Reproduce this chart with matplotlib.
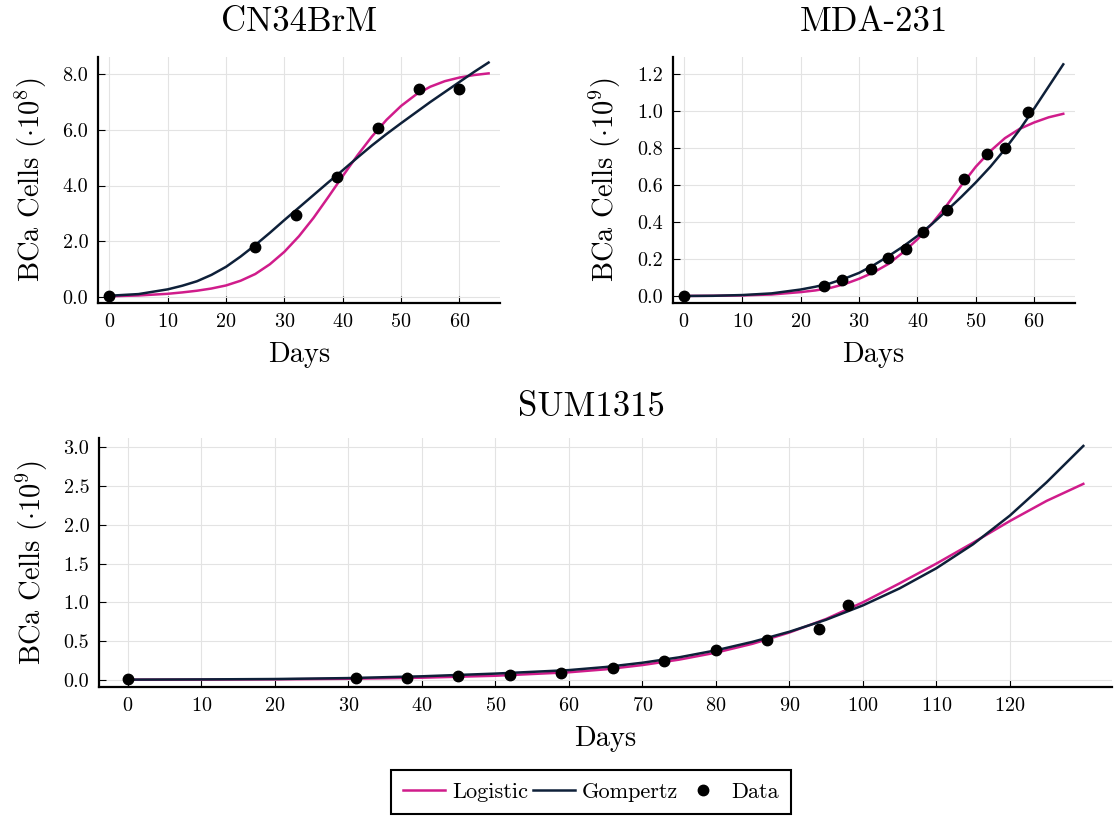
import matplotlib
matplotlib.use("Agg")
import matplotlib.pyplot as plt
from matplotlib.lines import Line2D
from matplotlib.ticker import FormatStrFormatter

plt.rcParams['font.family'] = 'serif'
plt.rcParams['font.serif'] = ['cmr10']
plt.rcParams['mathtext.fontset'] = 'cm'
plt.rcParams['axes.formatter.use_mathtext'] = True

LOGI = '#D01C8B'
GOMP = '#0E2039'

# CN34BrM (cells x 1e8)
cn_days = [0, 25, 32, 39, 46, 53, 60]
cn_cells = [0.03, 1.80, 2.95, 4.32, 6.08, 7.47, 7.47]
cn_t = [0, 5, 10, 12.5, 15, 17.5, 20, 22.5, 25, 27.5, 30, 32.5, 35, 37.5, 40,
        42.5, 45, 47.5, 50, 52.5, 55, 57.5, 60, 62.5, 65]
cn_logistic = [0.02, 0.05, 0.11, 0.16, 0.22, 0.30, 0.41, 0.58, 0.82, 1.17, 1.62, 2.18, 2.84,
               3.58, 4.34, 5.08, 5.76, 6.36, 6.86, 7.26, 7.55, 7.75, 7.88, 7.97, 8.03]
cn_gompertz = [0.04, 0.10, 0.27, 0.40, 0.56, 0.79, 1.08, 1.45, 1.86, 2.30, 2.76, 3.21, 3.66,
               4.11, 4.55, 5.00, 5.44, 5.85, 6.24, 6.62, 7.00, 7.36, 7.72, 8.08, 8.42]

# MDA-231 (cells x 1e9)
mda_days = [0, 24, 27, 32, 35, 38, 41, 45, 48, 52, 55, 59]
mda_cells = [0.0, 0.056, 0.088, 0.145, 0.208, 0.256, 0.346, 0.467, 0.632, 0.768, 0.804, 0.996]
mda_t = [0, 5, 10, 15, 20, 22.5, 25, 27.5, 30, 32.5, 35, 37.5, 40, 42.5, 45, 47.5,
         50, 52.5, 55, 57.5, 60, 62.5, 65]
mda_logistic = [0.0, 0.001, 0.003, 0.008, 0.021, 0.030, 0.043, 0.064, 0.093, 0.128, 0.173,
                0.235, 0.307, 0.392, 0.49, 0.598, 0.70, 0.785, 0.855, 0.905, 0.94, 0.968, 0.987]
mda_gompertz = [0.0, 0.001, 0.005, 0.014, 0.035, 0.050, 0.068, 0.094, 0.125, 0.167, 0.215,
                0.267, 0.325, 0.39, 0.462, 0.536, 0.615, 0.70, 0.795, 0.90, 1.015, 1.135, 1.255]

# SUM1315 (cells x 1e9)
sum_days = [0, 31, 38, 45, 52, 59, 66, 73, 80, 87, 94, 98]
sum_cells = [0.005, 0.026, 0.026, 0.047, 0.06, 0.09, 0.15, 0.245, 0.39, 0.51, 0.65, 0.96]
sum_t = [0, 10, 20, 30, 40, 50, 60, 65, 70, 75, 80, 85, 90, 95, 100, 105, 110, 115, 120, 125, 130]
sum_logistic = [0.001, 0.003, 0.006, 0.013, 0.027, 0.052, 0.097, 0.135, 0.19, 0.26, 0.35, 0.465,
                0.61, 0.785, 1.0, 1.245, 1.50, 1.77, 2.05, 2.31, 2.53]
sum_gompertz = [0.002, 0.005, 0.01, 0.022, 0.045, 0.08, 0.125, 0.165, 0.22, 0.29, 0.38, 0.49,
                0.62, 0.775, 0.96, 1.18, 1.44, 1.75, 2.12, 2.55, 3.02]


def style(ax):
    for s in ['top', 'right']:
        ax.spines[s].set_visible(False)
    for s in ['left', 'bottom']:
        ax.spines[s].set_linewidth(1.6)
    ax.tick_params(direction='in', length=5, width=0.8, pad=7, labelsize=14.5)
    ax.grid(True, color='#e3e3e3', linewidth=0.8)
    ax.set_axisbelow(True)


def panel(ax, t, lg, gp, days, cells, title, ylab, pad=19, tx=0.5):
    ax.plot(t, lg, color=LOGI, lw=1.8, label='Logistic')
    ax.plot(t, gp, color=GOMP, lw=1.8, label='Gompertz')
    ax.plot(days, cells, 'o', color='black', ms=7.5, label='Data', zorder=5)
    style(ax)
    ax.set_xlabel('Days', fontsize=20.5, labelpad=8)
    ax.set_ylabel(ylab, fontsize=20.5, labelpad=10)
    ax.set_title(title, fontsize=25, pad=pad, x=tx)


fig = plt.figure(figsize=(11.15, 8.16), dpi=100)

ax1 = fig.add_axes([0.0879, 0.6287, 0.3605, 0.3015])
panel(ax1, cn_t, cn_logistic, cn_gompertz, cn_days, cn_cells, 'CN34BrM',
      r'BCa Cells $(\cdot 10^8)$')
ax1.set_xlim(-1.95, 66.95)
ax1.set_ylim(-0.22, 8.62)
ax1.set_xticks(range(0, 61, 10))
ax1.set_yticks([0, 2, 4, 6, 8])
ax1.yaxis.set_major_formatter(FormatStrFormatter('%.1f'))

ax2 = fig.add_axes([0.6033, 0.6287, 0.3605, 0.3015])
panel(ax2, mda_t, mda_logistic, mda_gompertz, mda_days, mda_cells, 'MDA-231',
      r'BCa Cells $(\cdot 10^9)$')
ax2.set_xlim(-1.95, 66.95)
ax2.set_ylim(-0.038, 1.295)
ax2.set_xticks(range(0, 61, 10))
ax2.set_yticks([0, 0.2, 0.4, 0.6, 0.8, 1.0, 1.2])
ax2.yaxis.set_major_formatter(FormatStrFormatter('%.1f'))

ax3 = fig.add_axes([0.0888, 0.158, 0.9085, 0.305])
panel(ax3, sum_t, sum_logistic, sum_gompertz, sum_days, sum_cells, 'SUM1315',
      r'BCa Cells $(\cdot 10^9)$', pad=16, tx=0.486)
ax3.set_xlim(-3.9, 133.9)
ax3.set_ylim(-0.094, 3.12)
ax3.set_xticks(range(0, 121, 10))
ax3.set_yticks([0, 0.5, 1.0, 1.5, 2.0, 2.5, 3.0])
ax3.yaxis.set_major_formatter(FormatStrFormatter('%.1f'))

handles = [Line2D([], [], color=LOGI, lw=1.8),
           Line2D([], [], color=GOMP, lw=1.8),
           Line2D([], [], color='black', marker='o', ms=7.5, ls='none')]
leg = fig.legend(handles, ['Logistic', 'Gompertz', 'Data'], loc='lower center',
                 bbox_to_anchor=(0.53, 0.002), ncol=3, fontsize=16, frameon=True,
                 fancybox=False, edgecolor='black', framealpha=1, handlelength=1.9,
                 handletextpad=0.3, columnspacing=0.2, borderpad=0.55, borderaxespad=0)
leg.get_frame().set_linewidth(1.5)

fig.savefig('out.png', dpi=100)
